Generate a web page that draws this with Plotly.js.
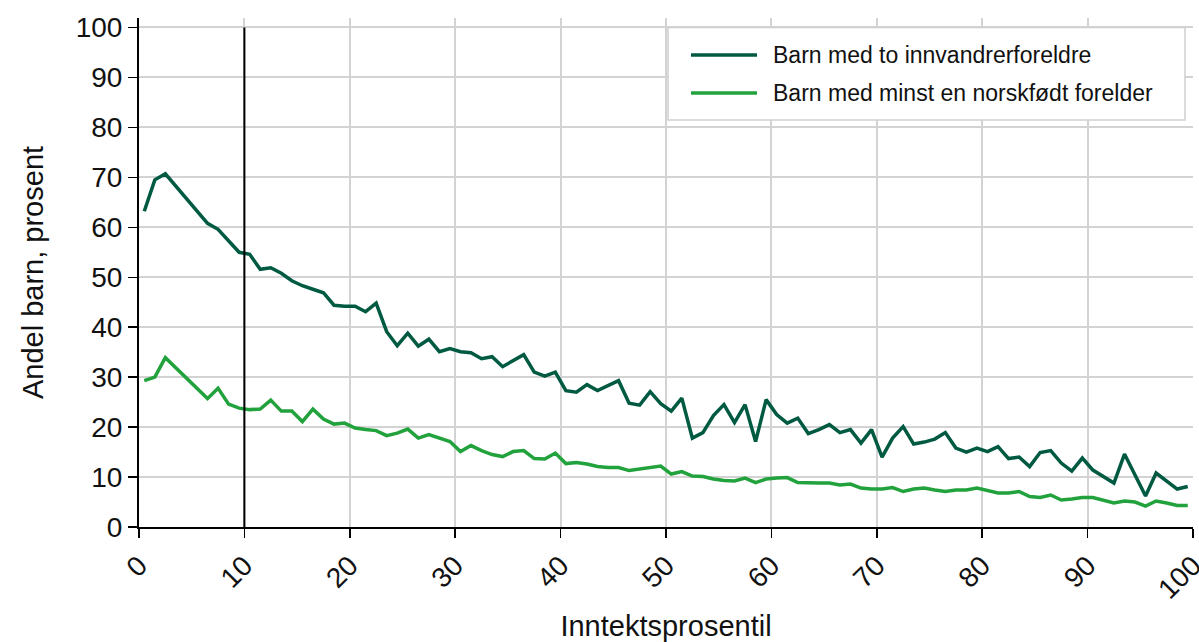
<!DOCTYPE html>
<html>
<head>
<meta charset="utf-8">
<script src="https://cdn.plot.ly/plotly-3.0.1.min.js"></script>
<style>html,body{margin:0;padding:0;background:#fff;}#chart{width:1199px;height:642px;}</style>
</head>
<body>
<div id="chart"></div>
<script>
// Income percentile (bin midpoints)
const percentiles = [
  0.5,1.5,2.5,3.5,4.5,5.5,6.5,7.5,8.5,9.5,
  10.5,11.5,12.5,13.5,14.5,15.5,16.5,17.5,18.5,19.5,
  20.5,21.5,22.5,23.5,24.5,25.5,26.5,27.5,28.5,29.5,
  30.5,31.5,32.5,33.5,34.5,35.5,36.5,37.5,38.5,39.5,
  40.5,41.5,42.5,43.5,44.5,45.5,46.5,47.5,48.5,49.5,
  50.5,51.5,52.5,53.5,54.5,55.5,56.5,57.5,58.5,59.5,
  60.5,61.5,62.5,63.5,64.5,65.5,66.5,67.5,68.5,69.5,
  70.5,71.5,72.5,73.5,74.5,75.5,76.5,77.5,78.5,79.5,
  80.5,81.5,82.5,83.5,84.5,85.5,86.5,87.5,88.5,89.5,
  90.5,91.5,92.5,93.5,94.5,95.5,96.5,97.5,98.5,99.5
];
// Barn med to innvandrerforeldre
const toInnvandrer = [
  63.2,69.5,70.7,68.2,65.7,63.2,60.8,59.6,57.3,55.0,
  54.6,51.6,51.9,50.8,49.3,48.3,47.6,46.9,44.4,44.2,
  44.2,43.1,44.8,39.1,36.3,38.8,36.2,37.6,35.1,35.7,
  35.1,34.9,33.7,34.1,32.1,33.3,34.5,31.0,30.2,31.0,
  27.3,27.0,28.5,27.3,28.3,29.3,24.8,24.4,27.1,24.7,
  23.2,25.8,17.8,18.9,22.3,24.5,20.9,24.5,17.1,25.5,
  22.5,20.8,21.8,18.7,19.5,20.5,18.9,19.5,16.8,19.5,
  14.0,17.8,20.1,16.6,17.0,17.6,18.9,15.8,15.0,15.8,
  15.1,16.1,13.7,14.0,12.1,14.9,15.3,12.8,11.2,13.8,
  11.4,10.1,8.8,14.6,10.4,6.2,10.8,9.3,7.6,8.1
];
// Barn med minst en norskfødt forelder
const norskfodt = [
  29.3,30.0,33.9,31.9,29.8,27.7,25.7,27.8,24.6,23.8,
  23.5,23.6,25.4,23.2,23.2,21.1,23.6,21.6,20.6,20.8,
  19.8,19.5,19.3,18.3,18.8,19.6,17.8,18.5,17.8,17.1,
  15.1,16.3,15.3,14.5,14.1,15.1,15.3,13.7,13.6,14.8,
  12.7,12.9,12.6,12.1,11.9,11.9,11.3,11.6,11.9,12.2,
  10.6,11.1,10.2,10.1,9.6,9.3,9.2,9.8,8.9,9.6,
  9.8,9.9,8.9,8.8,8.8,8.8,8.4,8.6,7.8,7.6,
  7.6,7.9,7.1,7.6,7.8,7.4,7.1,7.4,7.4,7.8,
  7.3,6.8,6.8,7.1,6.1,5.9,6.4,5.4,5.6,5.9,
  5.9,5.4,4.8,5.2,5.0,4.2,5.2,4.8,4.3,4.3
];
const seriesNames = ["Barn med to innvandrerforeldre", "Barn med minst en norskfødt forelder"];
const xTicks = [0,10,20,30,40,50,60,70,80,90,100];
const yTicks = [0,10,20,30,40,50,60,70,80,90,100];
const markerPercentile = 10;

const darkGreen = "#005a42";
const lightGreen = "#22a23c";
const FONT = "Liberation Sans, Arial, sans-serif";

const traces = [
  {x: percentiles, y: toInnvandrer, type: "scatter", mode: "lines", name: seriesNames[0],
   line: {color: darkGreen, width: 3.5}, showlegend: false, hoverinfo: "skip"},
  {x: percentiles, y: norskfodt, type: "scatter", mode: "lines", name: seriesNames[1],
   line: {color: lightGreen, width: 3.5}, showlegend: false, hoverinfo: "skip"}
];

// custom legend (paper coords computed from pixel layout)
const W = 1199, H = 642, mL = 139, mR = 6, mT = 18, mB = 115;
const pw = W - mL - mR, ph = H - mT - mB;
function px(xp){ return (xp - mL) / pw; }
function py(yp){ return (H - mB - yp) / ph; }

const shapes = [
  {type: "line", xref: "x", yref: "y", x0: markerPercentile, x1: markerPercentile, y0: 0, y1: 100,
   line: {color: "#000", width: 2}, layer: "above"},
  {type: "rect", xref: "paper", yref: "paper", x0: px(668), x1: px(1185), y0: py(27.5), y1: py(120),
   fillcolor: "#fff", line: {color: "#d0d0d0", width: 1.5}, layer: "above"},
  {type: "line", xref: "paper", yref: "paper", x0: px(691), x1: px(757), y0: py(55), y1: py(55),
   line: {color: darkGreen, width: 3.5}, layer: "above"},
  {type: "line", xref: "paper", yref: "paper", x0: px(691), x1: px(757), y0: py(93), y1: py(93),
   line: {color: lightGreen, width: 3.5}, layer: "above"}
];
const annotations = [
  {xref: "paper", yref: "paper", x: px(771), y: py(55), text: seriesNames[0], showarrow: false,
   xanchor: "left", yanchor: "middle", font: {family: FONT, size: 23, color: "#111"}},
  {xref: "paper", yref: "paper", x: px(771), y: py(93), text: seriesNames[1], showarrow: false,
   xanchor: "left", yanchor: "middle", font: {family: FONT, size: 23, color: "#111"}}
];

const layout = {
  width: W, height: H,
  margin: {l: mL, r: mR, t: mT, b: mB, pad: 0},
  paper_bgcolor: "#fff", plot_bgcolor: "#fff",
  font: {family: FONT, size: 28, color: "#111"},
  showlegend: false,
  xaxis: {
    range: [0, 100], tickvals: xTicks, ticktext: xTicks.map(String), tickangle: -45,
    ticklabeloverflow: "allow",
    showgrid: true, gridcolor: "#d3d3d3", gridwidth: 2, zeroline: false,
    showline: true, linecolor: "#000", linewidth: 2,
    ticks: "outside", ticklen: 9, tickwidth: 1.5, tickcolor: "#000",
    tickfont: {family: FONT, size: 28, color: "#111"},
    title: {text: "Inntektsprosentil", font: {family: FONT, size: 29, color: "#111"}, standoff: 36},
    automargin: false
  },
  yaxis: {
    range: [0, 101.9], tickvals: yTicks, ticktext: yTicks.map(String),
    ticklabeloverflow: "allow",
    showgrid: true, gridcolor: "#d3d3d3", gridwidth: 2, zeroline: false,
    showline: true, linecolor: "#000", linewidth: 2,
    ticks: "outside", ticklen: 9, tickwidth: 1.5, tickcolor: "#000",
    tickfont: {family: FONT, size: 28, color: "#111"},
    title: {text: "Andel barn, prosent", font: {family: FONT, size: 29, color: "#111"}, standoff: 24},
    automargin: false
  },
  shapes: shapes,
  annotations: annotations
};

Plotly.newPlot("chart", traces, layout, {staticPlot: true, displayModeBar: false});
</script>
</body>
</html>
